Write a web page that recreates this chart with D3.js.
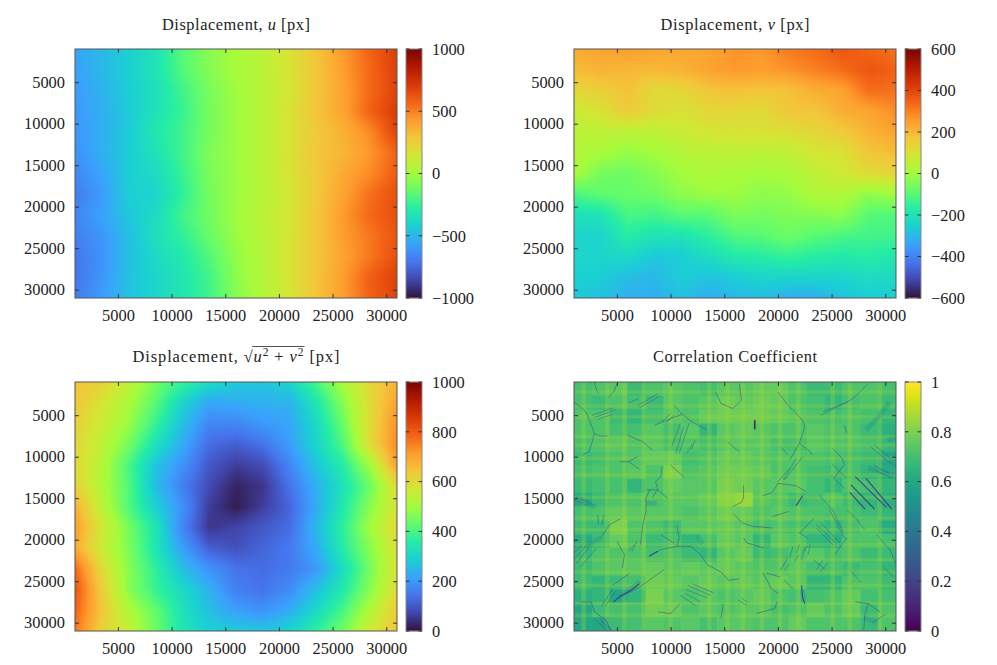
<!DOCTYPE html>
<html><head><meta charset="utf-8">
<script src="https://cdn.jsdelivr.net/npm/d3@7"></script>
<style>
html,body{margin:0;padding:0;background:#fff}
svg{display:block}
text{font-family:"Liberation Serif",serif;fill:#222}
</style></head><body><svg id="chart" width="997" height="665"></svg>
<script>
// ---------- data ----------
const axisTicks = [5000,10000,15000,20000,25000,30000];
const gridCoords = [1000,3500,6000,8500,11000,13500,16000,18500,21000,23500,26000,28500,31000];
const turboStops = ["#30123b","#4145ab","#4675ed","#39a2fc","#1bcfd4","#24eca6","#61fc6c","#a4fc3c","#d1e834","#f3c63a","#fe9b2d","#f36315","#d93806","#b11901","#7a0403"];

const uValues = [
[-570,-500,-420,-340,-170,-60,10,70,170,290,430,580,700],
[-570,-500,-420,-330,-180,-70,10,70,170,280,420,560,690],
[-590,-520,-430,-350,-220,-90,-10,60,150,280,400,560,680],
[-600,-530,-440,-340,-240,-100,-10,60,170,290,400,580,710],
[-610,-530,-440,-310,-220,-100,-10,60,160,270,360,470,680],
[-620,-530,-430,-340,-220,-80,-10,60,170,280,340,440,580],
[-660,-560,-430,-370,-240,-90,-20,60,160,270,380,470,600],
[-690,-590,-430,-400,-260,-100,-20,60,150,270,400,540,640],
[-660,-570,-450,-370,-220,-110,-10,70,150,280,430,560,640],
[-680,-610,-480,-350,-260,-130,-20,60,160,280,420,520,620],
[-710,-620,-480,-380,-300,-180,-40,50,160,280,400,520,640],
[-710,-610,-470,-400,-320,-220,-50,50,160,290,420,590,690],
[-690,-590,-470,-390,-320,-220,-70,40,150,290,420,580,680]];

const vValues = [
[230,240,250,240,230,240,270,260,310,330,370,340,320],
[190,210,200,200,210,240,260,250,270,300,330,370,350],
[130,150,180,120,130,170,180,170,180,220,240,330,320],
[70,100,160,120,100,130,130,120,170,170,220,240,280],
[40,50,40,50,70,90,100,100,110,130,160,210,240],
[30,10,-20,0,30,40,50,40,50,90,100,170,190],
[10,-60,-70,-40,0,20,10,0,10,50,80,120,130],
[-120,-90,-80,-70,-30,-10,-10,-30,-20,20,20,-30,0],
[-210,-200,-120,-130,-100,-100,-50,-60,-50,-40,-30,-100,-110],
[-240,-240,-170,-200,-200,-160,-110,-100,-70,-100,-120,-130,-130],
[-240,-240,-230,-270,-260,-220,-180,-170,-150,-170,-180,-170,-190],
[-250,-260,-290,-300,-260,-280,-260,-240,-240,-240,-240,-220,-230],
[-270,-280,-320,-320,-280,-320,-300,-290,-320,-320,-280,-260,-260]];

const magValues = [
[650,620,540,450,380,320,280,270,300,400,510,610,680],
[640,580,510,420,300,220,230,240,240,340,470,600,700],
[620,560,490,380,260,170,170,200,220,310,440,600,730],
[610,540,450,330,230,130,110,140,210,300,410,600,740],
[600,530,400,270,190,100,60,80,170,270,360,500,710],
[620,520,410,260,160,80,25,50,140,240,330,440,600],
[680,540,410,290,190,60,15,60,120,230,350,470,580],
[710,570,450,340,170,50,70,100,130,250,370,500,600],
[690,560,460,340,210,110,90,120,150,230,360,470,590],
[780,600,470,370,260,190,140,130,150,200,320,450,580],
[810,630,470,380,310,240,160,140,180,260,350,470,600],
[790,640,520,430,330,260,210,190,230,310,400,520,630],
[760,620,550,440,340,290,280,270,300,370,450,570,640]];

const corrTiles = [
[.70,.72,.74,.68,.72,.74,.72,.70,.74,.74,.76,.76,.72,.68,.68,.72,.72,.70],
[.70,.68,.72,.70,.68,.74,.72,.74,.78,.76,.78,.76,.72,.70,.66,.70,.72,.68],
[.72,.72,.68,.66,.70,.74,.72,.76,.78,.78,.78,.76,.74,.72,.70,.72,.70,.66],
[.72,.72,.70,.70,.74,.70,.74,.66,.74,.76,.74,.72,.72,.74,.72,.72,.68,.64],
[.70,.72,.74,.72,.74,.70,.72,.70,.74,.74,.74,.70,.70,.74,.72,.72,.70,.66],
[.68,.70,.72,.72,.76,.76,.70,.72,.76,.76,.74,.72,.72,.72,.70,.70,.68,.60],
[.70,.72,.72,.74,.72,.80,.72,.74,.78,.78,.76,.72,.72,.70,.68,.70,.66,.62],
[.68,.70,.70,.66,.72,.76,.74,.74,.80,.78,.74,.74,.74,.70,.66,.72,.70,.66],
[.62,.68,.72,.72,.72,.74,.74,.76,.82,.84,.74,.72,.68,.70,.72,.68,.66,.64],
[.70,.72,.76,.74,.74,.74,.72,.74,.78,.76,.72,.74,.72,.72,.70,.70,.68,.66],
[.68,.68,.80,.72,.72,.68,.74,.74,.76,.74,.70,.72,.70,.70,.66,.70,.72,.62],
[.62,.68,.76,.72,.68,.70,.66,.70,.76,.74,.66,.74,.72,.66,.64,.72,.72,.70],
[.66,.72,.72,.72,.70,.72,.68,.66,.74,.76,.68,.70,.72,.74,.70,.72,.68,.68],
[.68,.72,.74,.74,.76,.74,.76,.74,.76,.74,.72,.72,.74,.70,.70,.68,.70,.66],
[.68,.66,.68,.70,.78,.76,.74,.76,.74,.76,.74,.76,.74,.66,.66,.72,.72,.68],
[.64,.66,.60,.66,.80,.74,.72,.74,.72,.74,.76,.72,.70,.70,.72,.76,.70,.70],
[.60,.68,.70,.70,.78,.76,.72,.74,.72,.74,.74,.70,.72,.76,.72,.76,.68,.72],
[.60,.60,.68,.70,.74,.72,.74,.70,.74,.74,.72,.72,.76,.72,.72,.72,.68,.72]];

// bright stripes of the correlation map, position in px of the sample
const corrStripesX = [1900,4100,5700,7500,10000,13600,15300,16750,18500,20200,21900,25100,26700,29500];
const corrStripesY = [2200,3900,5200,7600,8600,10200,12200,14900,17400,18800,20600,22400,23900,25500,27700,29100];

// traced features, [x,y] in thousands of px
const grainLines = [
[[1,3.4],[1.6,4],[2.1,4.6],[2.5,5.8],[2.9,7.2],[3.3,7.5],[4.1,7.5]],
[[2.9,7.2],[2.7,8.2],[2.4,9.4],[1.8,9.8]],
[[2.9,1],[3.1,2],[3.3,2.4]],
[[5,1.2],[4.7,2.2],[4.2,2.8]],
[[10.3,3.8],[11.1,4.9],[12,5.8],[13.4,6.8]],
[[11.1,4.9],[10,5.4],[8.5,6.2]],
[[5.3,10.6],[6.1,10.6],[7.1,11.5]],
[[6.1,10.6],[6.9,10]],
[[9.2,11.2],[9.1,12.4],[8.6,13],[8.8,13.9],[8.3,14.9]],
[[8.1,13.9],[7.7,15],[7.7,16.6],[7.4,18.2],[7.2,20.6]],
[[14.2,2.2],[14.7,3.6],[15.8,4.2],[16.6,3.2],[16.4,1.2]],
[[6,7.4],[7.4,8.2],[8.3,9.2]],
[[10,11],[11.2,12.4]],
[[7.8,14],[8.8,14],[9.7,15]],
[[20,2.2],[20.8,3.6],[22.3,5.6],[22.5,6.4],[22,8.4],[21.1,10.4]],
[[18.6,14.7],[19.5,14.3],[20,13.2]],
[[20,13.2],[21.7,13.5],[22.6,14.2]],
[[16.8,13.4],[16.8,14.9],[16.6,15.5],[15.8,16]],
[[22,8.4],[23,9.4],[23.2,9.8]],
[[3.5,19.8],[4.3,18.2],[5.3,17.5]],
[[8,22],[9.1,21.2],[10.6,20.8],[10.8,19.8],[10.6,18.4]],
[[10.6,20.8],[11.9,20.8],[12.8,21.8],[13.4,23]],
[[13.4,23],[14.7,23.9],[15.4,24.9],[16.4,24.7]],
[[4.6,25.5],[6.1,24.1]],
[[5.2,26.9],[7,25.8],[9.4,23.6]],
[[1.6,27.5],[2.6,27.5],[2.9,28.7],[4,29.7],[4.4,30.9]],
[[14.9,27.7],[14.7,29.5]],
[[8.8,28.7],[10,28.9],[10.9,27.7]],
[[5,20.2],[5.7,21.8],[5.5,23.4]],
[[9.1,19.4],[10.3,20.4]],
[[15.8,16.8],[16.7,18],[17.7,18.4],[19.5,18.6]],
[[19.5,17.2],[21,16.6]],
[[16.8,19.8],[17.1,20.4],[17.7,20.6],[18.7,21]],
[[18.6,24],[19.4,25.9],[20,26.5]],
[[18.9,24],[20.2,24.5]],
[[20.6,24.9],[21.4,25.9]],
[[19.9,27.5],[19.7,28.3],[18,28.9]],
[[27.2,27.5],[28.4,27.7],[29.5,28.7]],
[[28.4,27.7],[28.1,29.1],[28,30.9]],
[[22,19.2],[22.8,19.8]],
[[22,19.2],[23.4,17.4]],
[[30.4,21],[31,23]],
[[25.1,9],[26,10.2],[26.2,11],[25.2,12.6]],
[[26.2,6.2],[26.4,7.2]]];

const twinLines = [
[[2.7,5],[4.7,4.1]],[[2.9,5.3],[4.9,4.3]],[[3.2,5.5],[4.6,4.9]],
[[6.9,3.9],[8.8,2.4]],[[7.1,4.1],[9,2.7]],[[6.1,3.5],[7,3]],
[[9.2,5.8],[10,4.8]],[[9.6,5.9],[10.3,5]],
[[10.9,6],[10.1,8.8]],[[11.2,6.4],[10.5,9.6]],[[11.7,6],[10.8,9.6]],[[12.3,8],[11.9,9.2]],[[12,8.5],[11.5,9.6]],
[[15.3,8.2],[16.4,9.4]],
[[1,15.2],[2.2,15.9]],[[1.2,14.8],[2.8,15.8]],
[[24,5],[27,3]],[[24.2,4.6],[26.5,3.4]],[[27,3],[28.4,1.2]],
[[21.7,10.2],[20.5,12.8]],[[22.3,10],[20.6,12.8]],[[21.1,11.4],[20,13]],
[[28.6,8.8],[30.3,10.6]],[[29,8.6],[30.5,10.2]],[[30.3,10.6],[31,11.2]],
[[1,22.4],[2.2,20.6]],[[1.2,22.9],[2.4,20.9]],[[1.6,23.3],[3.1,21]],[[1,21.6],[1.8,20.6]],
[[3.2,17],[3.3,18.2]],[[3.8,17],[3.6,18.2]],
[[6.9,20.1],[6.4,21.4]],[[6.6,20.6],[6.1,21.4]],
[[11.6,25.5],[13.7,26.7]],[[12,25.3],[14,26.4]],[[11.4,26],[13.4,27]],
[[10.9,26.7],[12.3,27.9]],[[11.4,26.5],[12.8,27.5]],
[[3.6,28],[4.6,25.9]],[[3.9,28],[4.9,26.2]],
[[2.9,29.5],[4.1,31]],[[3.4,29.5],[4.6,31]],
[[23.6,18.6],[25.1,20.6]],[[23.6,18.2],[25.4,20.4]],[[24,18],[25.8,20.4]],
[[24.8,16.4],[26.2,19.8],[26.4,19.8],[25.3,21.8]],[[25.1,16.4],[26.1,19.2]],
[[27.3,17.6],[28.1,18.8]],[[26.4,16.4],[27.6,17.8]],
[[16.3,27.3],[17.1,27.9]],[[16.6,27],[17.2,27.6]],
[[20.2,23.7],[20.6,23]],[[20.5,23.1],[20.9,22.1]],[[21.1,22.2],[21.4,20.8]],[[21.7,21.6],[22,20.6]],[[22.2,22.4],[22.5,20.8]],[[22.8,21.8],[23,20.6]],[[20.6,23.7],[21.1,22.9]],[[21.6,22.6],[21.9,21.8]],[[22.5,21.4],[22.7,20.8]],
[[23.3,22.4],[24.4,23.6]],[[23.6,23.6],[24.2,22.4]],[[24,23.8],[24.6,22.8]],
[[28.9,11],[30.4,12]],[[29,11.6],[30.6,12.6]],
[[23.8,14.6],[25.2,16.6]],[[25,10.8],[26.4,12.6]],[[24.9,12.2],[26.2,13.8]],[[20.2,8.8],[21,9.8]],
[[29.2,19.4],[30.4,21.2]],[[29.8,23.2],[30.8,24.6]],[[26.8,23.8],[27.8,25.2]],[[28.8,30],[30,29]]];

const deepLines = [
[[4.7,27.5],[5.2,26.9],[6.3,26.1],[7.1,25.3]],
[[27.2,12.4],[30.1,16.1]],[[26.7,14.3],[28.1,16.3]],[[28.2,12.6],[30.6,16.3]],[[26.8,13.4],[29,16.3]],
[[22.2,25.5],[22.3,27],[22.5,27.7]],
[[22.3,14.7],[21.7,15.9]],
[[8,22],[8.8,21.4]]];

const stainLines = [
[[5.2,26.9],[6.3,26],[7.1,25]],[[2.2,20.6],[3.5,19.8]],[[1.6,15.1],[3,16.1]],
[[3.4,30],[4.4,31]],[[7.7,15.6],[8.7,15.6]],[[28.4,11.4],[30.8,12.2]],[[30.2,8],[31,7.8]],
[[28.2,6.8],[29.5,5],[30.4,3.4]],[[12.5,19.5],[13,20.5]],[[29.2,30],[28,29.4]],[[22.3,26],[22.4,27.5]]];

const corrMark = [[[17.84,5.6],[17.84,6.7]]];

// ---------- panels ----------
const panels = [
 {title:"u", left:75, top:49, domain:[-1000,1000], ticks:[-1000,-500,0,500,1000], values:uValues, cx:236, ty:30, tw:148},
 {title:"v", left:574, top:49, domain:[-600,600], ticks:[-600,-400,-200,0,200,400,600], values:vValues, cx:735, ty:30, tw:149},
 {title:"mag", left:75, top:382, domain:[0,1000], ticks:[0,200,400,600,800,1000], values:magValues, cx:236, ty:362, tw:207},
 {title:"corr", left:574, top:382, domain:[0,1], ticks:[0,.2,.4,.6,.8,1], values:null, cx:735, ty:362, tw:164}
];
const W=322, H=249, cbGap=9, cbW=16;
const FS=16.4, frame="#555";
const turbo = d3.piecewise(d3.interpolateRgb, turboStops);
const svg = d3.select("#chart");
const defs = svg.append("defs");
defs.append("filter").attr("id","soft").attr("x",0).attr("y",0).attr("width",1).attr("height",1)
  .append("feGaussianBlur").attr("stdDeviation",.6).attr("edgeMode","duplicate");

panels.forEach((p,pi)=>{
  const g = svg.append("g").attr("transform",`translate(${p.left},${p.top})`);
  const x = d3.scaleLinear([1000,31000],[0,W]);
  const y = d3.scaleLinear([1000,31000],[0,H]);
  const isCorr = p.values===null;
  const color = d3.scaleSequential(p.domain, isCorr ? d3.interpolateViridis : turbo);

  defs.append("clipPath").attr("id","clip"+pi).append("rect").attr("width",W).attr("height",H);
  const plot = g.append("g").attr("clip-path",`url(#clip${pi})`);

  if(!isCorr){
    const cv = document.createElement("canvas"); cv.width=W; cv.height=H;
    const ctx = cv.getContext("2d");
    const img = ctx.createImageData(W,H);
    const ix = d3.scaleLinear(d3.extent(gridCoords),[0,gridCoords.length-1]);
    for(let j=0;j<H;j++){
      const fy = ix(y.invert(j+.5)), r0=Math.min(Math.floor(fy),gridCoords.length-2), ty=fy-r0;
      for(let i=0;i<W;i++){
        const fx = ix(x.invert(i+.5)), c0=Math.min(Math.floor(fx),gridCoords.length-2), tx=fx-c0;
        const v = (1-ty)*((1-tx)*p.values[r0][c0]+tx*p.values[r0][c0+1]) + ty*((1-tx)*p.values[r0+1][c0]+tx*p.values[r0+1][c0+1]);
        const c = d3.rgb(color(v)), k=(j*W+i)*4;
        img.data[k]=c.r; img.data[k+1]=c.g; img.data[k+2]=c.b; img.data[k+3]=255;
      }
    }
    ctx.putImageData(img,0,0);
    plot.append("image").attr("width",W).attr("height",H).attr("href",cv.toDataURL());
  } else {
    const n = corrTiles.length;
    const soft = plot.append("g").attr("filter","url(#soft)");
    const tx = d3.scaleBand(d3.range(n),[0,W]), ty = d3.scaleBand(d3.range(n),[0,H]);
    soft.selectAll("g.row").data(corrTiles).join("g").attr("class","row")
      .selectAll("rect").data((r,ri)=>r.map((v,ci)=>({v,ci,ri}))).join("rect")
      .attr("x",d=>tx(d.ci)).attr("y",d=>ty(d.ri)).attr("width",tx.bandwidth()+.5).attr("height",ty.bandwidth()+.5)
      .attr("fill",d=>color(d.v));
    const band = 420;
    soft.selectAll("rect.sx").data(corrStripesX).join("rect").attr("class","sx")
      .attr("x",d=>x(d-band/2)).attr("y",0).attr("width",x(1000+band)).attr("height",H)
      .attr("fill",color(.86)).attr("opacity",.3);
    soft.selectAll("rect.sy").data(corrStripesY).join("rect").attr("class","sy")
      .attr("x",0).attr("y",d=>y(d-band/2)).attr("width",W).attr("height",y(1000+band))
      .attr("fill",color(.86)).attr("opacity",.26);
    const ln = d3.line().x(d=>x(d[0]*1000)).y(d=>y(d[1]*1000));
    const draw=(data,cls,val,w,op)=>soft.selectAll("path."+cls).data(data).join("path").attr("class",cls)
      .attr("d",ln).attr("fill","none").attr("stroke",color(val)).attr("stroke-width",w).attr("opacity",op);
    draw(stainLines,"stain",.5,5,.35);
    draw(grainLines,"grain",.25,.7,.8);
    draw(twinLines,"twin",.32,.7,.75);
    draw(deepLines,"deep",.2,1.2,.95);
    draw(corrMark,"mark",.05,1.6,.9);
  }

  // frame and inward ticks
  const tickStyle = s=>{s.select(".domain").remove(); s.selectAll("line").attr("stroke","#333").attr("stroke-width",1);
    s.selectAll("text").style("font-family",'"Liberation Serif",serif').style("font-size",FS+"px").attr("fill","#222");};
  g.append("rect").attr("width",W).attr("height",H).attr("fill","none").attr("stroke",frame).attr("stroke-width",1);
  g.append("g").attr("transform",`translate(0,${H})`).call(d3.axisBottom(x).tickValues(axisTicks).tickSizeInner(-4).tickSizeOuter(0).tickPadding(11).tickFormat(d3.format("d"))).call(tickStyle);
  g.append("g").call(d3.axisTop(x).tickValues(axisTicks).tickSizeInner(-4).tickSizeOuter(0).tickFormat("")).call(tickStyle);
  g.append("g").call(d3.axisLeft(y).tickValues(axisTicks).tickSizeInner(-4).tickSizeOuter(0).tickPadding(10).tickFormat(d3.format("d"))).call(tickStyle);
  g.append("g").attr("transform",`translate(${W},0)`).call(d3.axisRight(y).tickValues(axisTicks).tickSizeInner(-4).tickSizeOuter(0).tickFormat("")).call(tickStyle);

  // colour bar
  const cb = g.append("g").attr("transform",`translate(${W+cbGap},0)`);
  const cy = d3.scaleLinear(p.domain,[H,0]);
  cb.selectAll("rect.c").data(d3.range(H)).join("rect").attr("class","c")
    .attr("x",0).attr("y",d=>d).attr("width",cbW).attr("height",1.2)
    .attr("fill",d=>color(cy.invert(d+.5)));
  cb.append("rect").attr("width",cbW).attr("height",H).attr("fill","none").attr("stroke","#888").attr("stroke-width",1);
  const cfmt = isCorr ? (d=>String(+d.toFixed(1))) : d3.format("d");
  cb.append("g").attr("transform",`translate(${cbW},0)`).call(d3.axisRight(cy).tickValues(p.ticks).tickSizeInner(0).tickSizeOuter(0).tickPadding(10).tickFormat(cfmt)).call(tickStyle);
  const ct = cb.append("g");
  ct.selectAll("line").data(p.ticks).join("line").attr("x1",0).attr("x2",3.5).attr("y1",d=>cy(d)).attr("y2",d=>cy(d)).attr("stroke","#333");
  ct.append("g").selectAll("line").data(p.ticks).join("line").attr("x1",cbW-3.5).attr("x2",cbW).attr("y1",d=>cy(d)).attr("y2",d=>cy(d)).attr("stroke","#333");

  // title
  const t = svg.append("text").attr("x",p.cx).attr("y",p.ty).attr("text-anchor","middle").style("font-size","16.4px")
    .attr("textLength",p.tw).attr("lengthAdjust","spacing");
  const it = s=>t.append("tspan").style("font-style","italic").text(s);
  if(p.title==="u"||p.title==="v"){ t.append("tspan").text("Displacement, "); it(p.title); t.append("tspan").text(" [px]"); }
  else if(p.title==="corr"){ t.text("Correlation Coefficient"); }
  else {
    t.append("tspan").text("Displacement, ");
    t.append("tspan").text("\u221A");
    it("u"); t.append("tspan").attr("dy",-6).style("font-size","11.5px").text("2");
    t.append("tspan").attr("dy",6).text(" + "); it("v");
    t.append("tspan").attr("dy",-6).style("font-size","11.5px").text("2");
    t.append("tspan").attr("dy",6).text(" [px]");
    const s = t.node().textContent, a=s.indexOf("\u221A"), b=s.indexOf(" [px]");
    const n=t.node(), x0=n.getEndPositionOfChar(a).x, x1=n.getStartPositionOfChar(b).x;
    svg.append("line").attr("x1",x0-.5).attr("x2",x1).attr("y1",p.ty-15.5).attr("y2",p.ty-15.5).attr("stroke","#222").attr("stroke-width",.8);
  }
});
</script></body></html>
